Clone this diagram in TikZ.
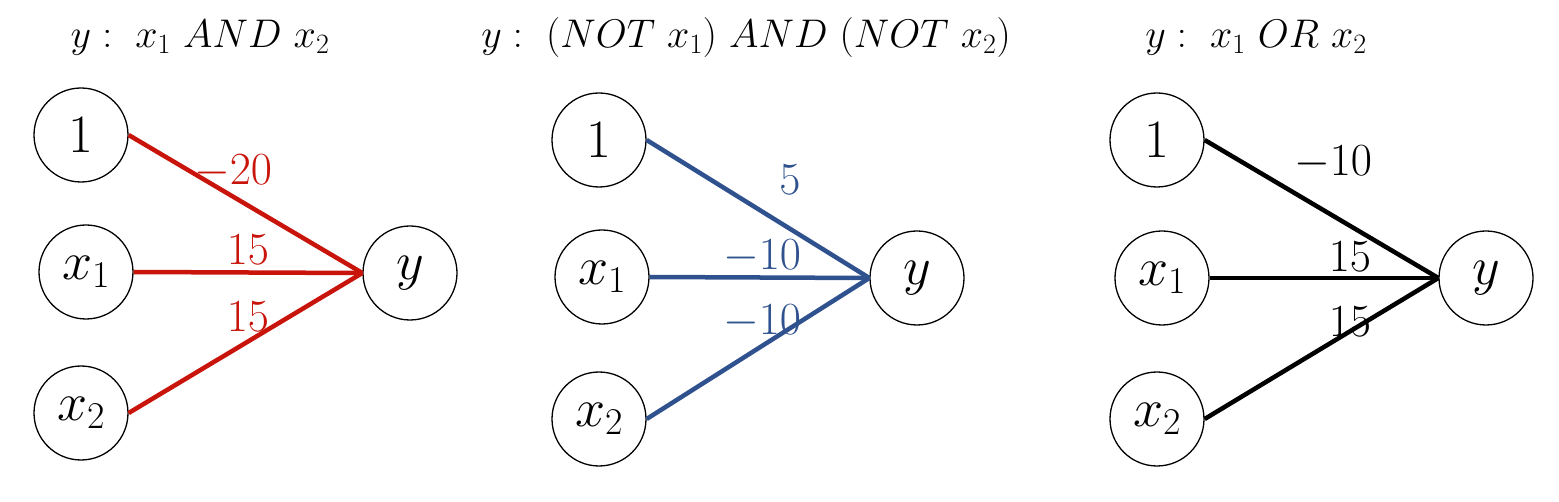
\documentclass[tikz,border=0pt]{standalone}
\usepackage{fix-cm}
\definecolor{andred}{RGB}{200,20,10}
\definecolor{norblue}{RGB}{47,82,143}
\tikzset{
  unit/.style={draw=black, circle, line width=1.3pt, minimum size=94pt, inner sep=0pt, font=\fontsize{54}{60}\selectfont},
  wire/.style={line width=4.5pt},
  wlabel/.style={inner sep=0pt, font=\fontsize{46}{52}\selectfont},
  title/.style={inner sep=0pt, anchor=base, font=\fontsize{40}{46}\selectfont}
}
\begin{document}
\begin{tikzpicture}[x=1pt,y=-1pt]
\useasboundingbox (0,0) rectangle (1559,502);
% ---------- panel 1 : AND ----------
\node[title] (t1) at (200,48) {$y:\ x_1\ AND\ x_2$};
\node[unit] (a1) at (81,135) {$1$};
\node[unit] (ax1) at (86,272) {$x_1$};
\node[unit] (ax2) at (81,413) {$x_2$};
\node[unit] (ay) at (410,273) {$y$};
\draw[wire, andred] (a1.east) -- (ay.west);
\draw[wire, andred] (ax1.east) -- (ay.west);
\draw[wire, andred] (ax2.east) -- (ay.west);
\node[wlabel, text=andred] (la1) at (233,172) {$-20$};
\node[wlabel, text=andred] (lax1) at (248,250) {$15$};
\node[wlabel, text=andred] (lax2) at (248,317) {$15$};
% ---------- panel 2 : NOR ----------
\node[title] (t2) at (746,48) {$y:\ (NOT\ x_1)\ AND\ (NOT\ x_2)$};
\node[unit] (b1) at (599,140) {$1$};
\node[unit] (bx1) at (602,277) {$x_1$};
\node[unit] (bx2) at (599,419) {$x_2$};
\node[unit] (by) at (917,278) {$y$};
\draw[wire, norblue] (b1.east) -- (by.west);
\draw[wire, norblue] (bx1.east) -- (by.west);
\draw[wire, norblue] (bx2.east) -- (by.west);
\node[wlabel, text=norblue] (lb1) at (790,180) {$5$};
\node[wlabel, text=norblue] (lbx1) at (762,257) {$-10$};
\node[wlabel, text=norblue] (lbx2) at (762,322) {$-10$};
% ---------- panel 3 : OR ----------
\node[title] (t3) at (1256,48) {$y:\ x_1\ OR\ x_2$};
\node[unit] (c1) at (1157,140) {$1$};
\node[unit] (cx1) at (1162,278) {$x_1$};
\node[unit] (cx2) at (1157,419) {$x_2$};
\node[unit] (cy) at (1486,278) {$y$};
\draw[wire, black] (c1.east) -- (cy.west);
\draw[wire, black] (cx1.east) -- (cy.west);
\draw[wire, black] (cx2.east) -- (cy.west);
\node[wlabel] (lc1) at (1333,163) {$-10$};
\node[wlabel] (lcx1) at (1350,257) {$15$};
\node[wlabel] (lcx2) at (1350,322) {$15$};
\end{tikzpicture}
\end{document}
